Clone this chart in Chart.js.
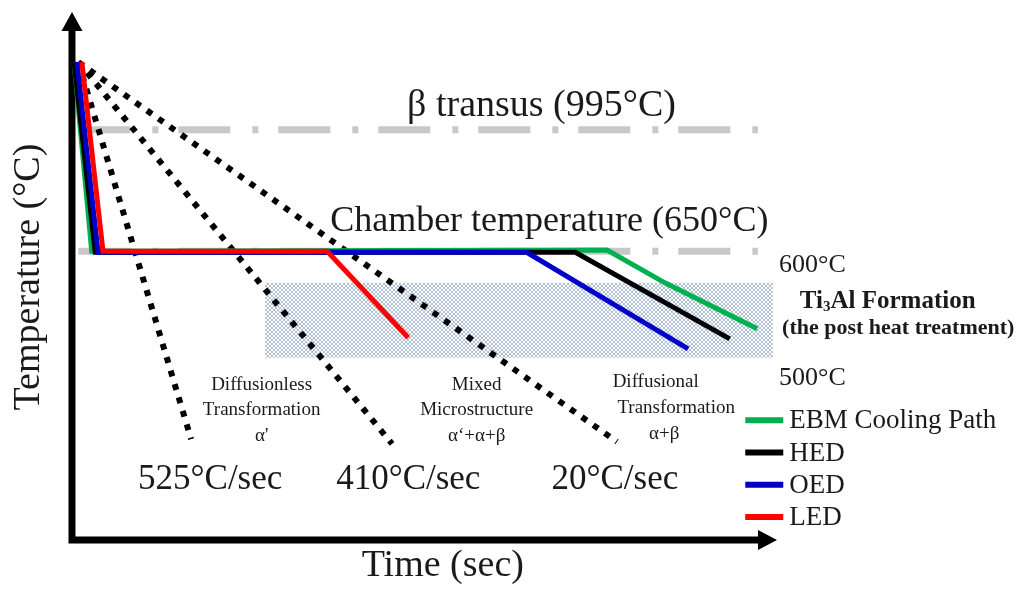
<!DOCTYPE html>
<html>
<head>
<meta charset="utf-8">
<script src="https://cdn.jsdelivr.net/npm/chart.js@4.4.1/dist/chart.umd.min.js"></script>
<style>
  body { margin: 0; background: #fff; }
  canvas { display: block; }
</style>
</head>
<body>
<canvas id="myChart" width="1020" height="590"></canvas>
<script>
// schematic units: time 0..100 along the x arrow, temperature level 0..100 up the y arrow
const seriesNames = ["EBM Cooling Path", "HED", "OED", "LED"];

const ebmTime = [0.3, 2.8, 75.9, 84.1, 97.2];
const ebmTemp = [90.5, 54.7, 54.9, 48.7, 40.0];
const hedTime = [0.3, 3.3, 71.4, 93.3];
const hedTemp = [90.5, 54.5, 54.5, 38.1];
const oedTime = [0.7, 3.7, 64.5, 87.4];
const oedTemp = [90.5, 54.5, 54.5, 36.2];
const ledTime = [1.4, 4.4, 36.2, 47.7];
const ledTemp = [90.5, 54.7, 54.7, 38.3];

// cooling-rate guide lines, all start at the peak
const rateLabels = ["525°C/sec", "410°C/sec", "20°C/sec"];
const rateStart = [0.9, 90.5];
const rateEndTime = [16.9, 45.4, 77.3];
const rateEndTemp = [19.1, 18.2, 18.6];

// reference levels
const betaTransus = 77.7;
const chamberTemp = 54.7;
const refTime = [0.9, 97.3];

// Ti3Al formation window
const bandTime = [27.4, 99.4];
const bandTemp = [34.5, 48.7];

const seriesColors = ["#00b050", "#000000", "#0000c8", "#ff0000"];
const serif = "'Liberation Serif', 'Times New Roman', serif";

function pts(xs, ys) {
  return xs.map((x, i) => ({ x: x, y: ys[i] }));
}

function hatch() {
  const c = document.createElement("canvas");
  c.width = 4;
  c.height = 4;
  const p = c.getContext("2d");
  p.fillStyle = "#ffffff";
  p.fillRect(0, 0, 4, 4);
  p.fillStyle = "#b0c0d4";
  for (let i = 0; i < 4; i++) {
    p.fillRect(i, i, 1, 1);
    p.fillRect(3 - i, i, 1, 1);
  }
  return c.getContext("2d").createPattern(c, "repeat");
}

// text annotations, placed in chart units
const textItems = [
  { text: "β transus (995°C)", x: 66.6, y: 82.2, size: 38 },
  { text: "Chamber temperature (650°C)", x: 67.7, y: 60.4, size: 36 },
  { text: "600°C", x: 100.3, y: 52.1, size: 26, align: "left" },
  { text: "500°C", x: 100.3, y: 30.7, size: 26, align: "left" },
  { text: "(the post heat treatment)", x: 117.2, y: 40.0, size: 22, bold: true },
  { text: "Diffusionless", x: 26.9, y: 29.4, size: 19 },
  { text: "Transformation", x: 26.9, y: 24.6, size: 19 },
  { text: "α'", x: 26.9, y: 19.7, size: 19 },
  { text: "Mixed", x: 57.4, y: 29.4, size: 19 },
  { text: "Microstructure", x: 57.4, y: 24.6, size: 19 },
  { text: "α‘+α+β", x: 57.4, y: 19.7, size: 19 },
  { text: "Diffusional", x: 82.8, y: 29.9, size: 19 },
  { text: "Transformation", x: 85.7, y: 25.0, size: 19 },
  { text: "α+β", x: 84.0, y: 20.1, size: 19 },
  { text: rateLabels[0], x: 19.6, y: 11.4, size: 35 },
  { text: rateLabels[1], x: 47.7, y: 11.4, size: 35 },
  { text: rateLabels[2], x: 77.0, y: 11.4, size: 35 },
  { text: "Time (sec)", x: 52.6, y: -4.9, size: 38 },
  { text: "Temperature (°C)", x: -6.1, y: 49.8, size: 38, rotate: true },
];

const axesPlugin = {
  id: "axes",
  beforeDatasetsDraw(chart) {
    const ctx = chart.ctx;
    const sx = chart.scales.x;
    const sy = chart.scales.y;
    const ox = sx.getPixelForValue(0);
    const oy = sy.getPixelForValue(0);
    const top = sy.getPixelForValue(100);
    const right = sx.getPixelForValue(100);
    ctx.save();
    ctx.strokeStyle = "#000";
    ctx.fillStyle = "#000";
    ctx.lineWidth = 7;
    ctx.beginPath();
    ctx.moveTo(ox, oy + 3.5);
    ctx.lineTo(ox, top + 16);
    ctx.moveTo(ox - 3.5, oy);
    ctx.lineTo(right - 16, oy);
    ctx.stroke();
    ctx.beginPath();
    ctx.moveTo(ox, top);
    ctx.lineTo(ox - 10.5, top + 19);
    ctx.lineTo(ox + 10.5, top + 19);
    ctx.closePath();
    ctx.moveTo(right, oy);
    ctx.lineTo(right - 19, oy - 10);
    ctx.lineTo(right - 19, oy + 10);
    ctx.closePath();
    ctx.fill();
    ctx.restore();
  },
};

const textPlugin = {
  id: "texts",
  afterDatasetsDraw(chart) {
    const ctx = chart.ctx;
    const sx = chart.scales.x;
    const sy = chart.scales.y;
    ctx.save();
    ctx.fillStyle = "#1a1a1a";
    ctx.textBaseline = "middle";
    textItems.forEach((t) => {
      const px = sx.getPixelForValue(t.x);
      const py = sy.getPixelForValue(t.y);
      ctx.font = (t.bold ? "bold " : "") + t.size + "px " + serif;
      ctx.textAlign = t.align || "center";
      if (t.rotate) {
        ctx.save();
        ctx.translate(px, py);
        ctx.rotate(-Math.PI / 2);
        ctx.fillText(t.text, 0, 0);
        ctx.restore();
      } else {
        ctx.fillText(t.text, px, py);
      }
    });

    // Ti3Al with subscript
    const big = "bold 25px " + serif;
    const small = "bold 15px " + serif;
    const parts = [["Ti", big, 0], ["3", small, 5], ["Al Formation", big, 0]];
    let w = 0;
    parts.forEach((p) => {
      ctx.font = p[1];
      w += ctx.measureText(p[0]).width;
    });
    let cx = sx.getPixelForValue(115.7) - w / 2;
    const cy = sy.getPixelForValue(45.1);
    ctx.textAlign = "left";
    parts.forEach((p) => {
      ctx.font = p[1];
      ctx.fillText(p[0], cx, cy + p[2]);
      cx += ctx.measureText(p[0]).width;
    });

    // legend
    const lx = sx.getPixelForValue(95.5);
    let ly = sy.getPixelForValue(22.7);
    ctx.font = "27px " + serif;
    ctx.lineWidth = 6;
    seriesNames.forEach((name, i) => {
      ctx.strokeStyle = seriesColors[i];
      ctx.beginPath();
      ctx.moveTo(lx, ly);
      ctx.lineTo(lx + 38, ly);
      ctx.stroke();
      ctx.fillText(name, lx + 44, ly + 1);
      ly += 32.3;
    });
    ctx.restore();
  },
};

function chart() {
  const ctx = document.getElementById("myChart");
  const series = [
    [ebmTime, ebmTemp],
    [hedTime, hedTemp],
    [oedTime, oedTemp],
    [ledTime, ledTemp],
  ];
  const datasets = [];

  series.forEach((s, i) => {
    datasets.push({
      label: seriesNames[i],
      data: pts(s[0], s[1]),
      showLine: true,
      borderColor: seriesColors[i],
      borderWidth: 5,
      borderJoinStyle: "miter",
      order: 3 - i,
    });
  });

  rateEndTime.forEach((t, i) => {
    datasets.push({
      label: rateLabels[i],
      data: [
        { x: rateStart[0], y: rateStart[1] },
        { x: t, y: rateEndTemp[i] },
      ],
      showLine: true,
      borderColor: "#000",
      borderWidth: 6,
      borderDash: [6, 8],
      order: 5,
    });
  });

  [betaTransus, chamberTemp].forEach((level) => {
    datasets.push({
      label: "ref",
      data: [
        { x: refTime[0], y: level },
        { x: refTime[1], y: level },
      ],
      showLine: true,
      borderColor: "#c8c8c8",
      borderWidth: 7,
      borderDash: [52, 22, 6, 20],
      order: 6,
    });
  });

  datasets.push({
    label: "Ti3Al",
    data: [
      { x: bandTime[0], y: bandTemp[1] },
      { x: bandTime[1], y: bandTemp[1] },
      { x: bandTime[1], y: bandTemp[0] },
      { x: bandTime[0], y: bandTemp[0] },
      { x: bandTime[0], y: bandTemp[1] },
    ],
    showLine: true,
    fill: "shape",
    backgroundColor: hatch(),
    borderColor: "rgba(0,0,0,0)",
    borderWidth: 1,
    order: 7,
  });

  new Chart(ctx, {
    type: "scatter",
    data: { datasets: datasets },
    options: {
      responsive: false,
      animation: false,
      devicePixelRatio: 1,
      events: [],
      layout: { padding: 0 },
      elements: { point: { radius: 0, hoverRadius: 0 }, line: { tension: 0 } },
      plugins: { legend: { display: false }, tooltip: { enabled: false } },
      scales: {
        x: { type: "linear", min: -10.21, max: 134.47, display: false },
        y: { type: "linear", min: -9.47, max: 102.27, display: false },
      },
    },
    plugins: [axesPlugin, textPlugin],
  });
}

document.addEventListener("DOMContentLoaded", chart);
</script>
</body>
</html>
